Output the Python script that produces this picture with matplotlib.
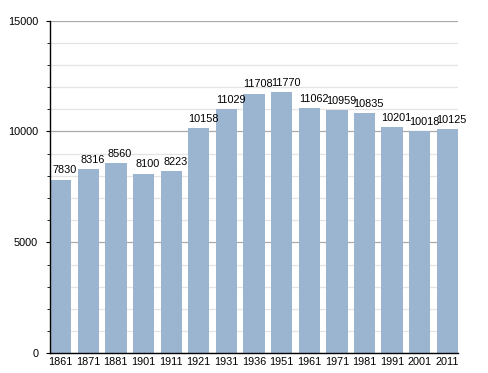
import matplotlib.pyplot as plt
from matplotlib.ticker import MultipleLocator

plt.rcParams['font.family'] = ['Liberation Sans', 'DejaVu Sans']

years = ['1861', '1871', '1881', '1901', '1911', '1921', '1931', '1936',
         '1951', '1961', '1971', '1981', '1991', '2001', '2011']
population = [7830, 8316, 8560, 8100, 8223, 10158, 11029, 11708,
              11770, 11062, 10959, 10835, 10201, 10018, 10125]

fig = plt.figure(figsize=(4.88, 3.73), dpi=100)
ax = fig.add_axes([0.1025, 0.0528, 0.836, 0.892])

w = 0.77
x = range(len(years))
ax.bar(x, population, width=w, color='#9bb4d0', zorder=2)

fs = 7.8
for i, v in zip(x, population):
    ax.annotate(str(v), (i, v), xytext=(3, 3), textcoords='offset points',
                ha='center', va='bottom', fontsize=fs, color='black')

ax.set_xlim(-w / 2, len(years) - 1 + w / 2)
ax.set_ylim(0, 15000)
ax.set_xticks(list(x))
ax.set_xticklabels(years, fontsize=fs)
ax.set_yticks([0, 5000, 10000, 15000])
ax.tick_params(axis='y', labelsize=fs, length=3, width=0.8, pad=5.5)
ax.yaxis.set_minor_locator(MultipleLocator(1000))
ax.tick_params(axis='y', which='minor', length=2.5, width=0.6)
ax.tick_params(axis='x', length=0, pad=3)

ax.grid(axis='y', which='major', color='#aaaaaa', linewidth=0.9, zorder=0)
ax.grid(axis='y', which='minor', color='#e4e4e4', linewidth=0.9, zorder=0)
ax.set_axisbelow(True)

for s in ['top', 'right']:
    ax.spines[s].set_visible(False)
ax.spines['left'].set_linewidth(1.0)
ax.spines['bottom'].set_linewidth(1.0)

plt.savefig('out.png', dpi=100)
